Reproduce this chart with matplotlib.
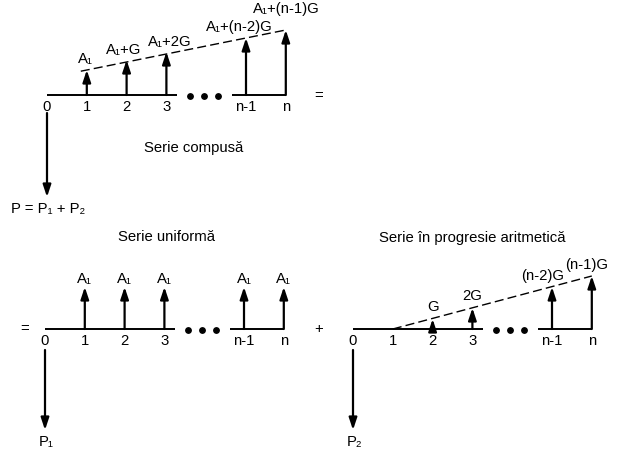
import matplotlib
matplotlib.use('Agg')
import matplotlib.pyplot as plt

plt.rcParams['font.family'] = ['Liberation Sans', 'DejaVu Sans']

# ---------------- data ----------------
# time-axis positions (a gap at 4 holds the ellipsis)
period_pos = [0, 1, 2, 3, 5, 6]
period_labels = ['0', '1', '2', '3', 'n-1', 'n']

# composite series (top)
comp_pos = [1, 2, 3, 5, 6]
comp_values = [25, 35, 43, 57, 65]
comp_labels = ['A₁', 'A₁+G', 'A₁+2G', 'A₁+(n-2)G', 'A₁+(n-1)G']

# uniform series (bottom left)
unif_pos = [1, 2, 3, 5, 6]
unif_values = [42, 42, 42, 42, 42]
unif_labels = ['A₁', 'A₁', 'A₁', 'A₁', 'A₁']

# arithmetic gradient series (bottom right)
grad_pos = [2, 3, 5, 6]
grad_values = [10, 21, 42, 53]
grad_labels = ['G', '2G', '(n-2)G', '(n-1)G']

# present values (downward arrows)
pv_values = [84, 80, 80]
pv_labels = ['P = P₁ + P₂', 'P₁', 'P₂']

titles = ['Serie compusă', 'Serie uniformă', 'Serie în progresie aritmetică']

# ---------------- layout ----------------
W, H = 624, 459
fig = plt.figure(figsize=(W / 100, H / 100), dpi=100)
ax = fig.add_axes([0, 0, 1, 1])
ax.set_xlim(0, W)
ax.set_ylim(H, 0)
ax.axis('off')

FS = 10.7
DX = 39.8
AR = dict(arrowstyle='-|>,head_length=0.6,head_width=0.2', color='black',
          lw=1.6, mutation_scale=12, shrinkA=0, shrinkB=0)


def xpos(x0, p):
    return x0 + p * DX


def timeline(x0, y0):
    ax.plot([xpos(x0, 0), xpos(x0, 3.27)], [y0, y0], color='black', lw=1.4,
            solid_capstyle='butt')
    ax.plot([xpos(x0, 4.65), xpos(x0, 6)], [y0, y0], color='black', lw=1.4,
            solid_capstyle='butt')
    ax.plot([xpos(x0, 3.6), xpos(x0, 3.95), xpos(x0, 4.3)], [y0 + 1] * 3, 'o',
            color='black', ms=3.9)
    for p, lab in zip(period_pos, period_labels):
        ax.text(xpos(x0, p), y0 + 12, lab, ha='center', va='center', fontsize=FS)


def up_arrows(x0, y0, pos, vals, labels, gaps, dxl):
    for p, v, lab, g, d in zip(pos, vals, labels, gaps, dxl):
        x = xpos(x0, p)
        ax.annotate('', xy=(x, y0 - v), xytext=(x, y0), arrowprops=AR)
        ax.text(x + d, y0 - v - g, lab, ha='center', va='bottom', fontsize=FS)


def down_arrow(x0, y0, v, start_off):
    ys = y0 + start_off
    ax.annotate('', xy=(x0, ys + v), xytext=(x0, ys), arrowprops=AR)
    return ys + v


# --- top: composite series ---
x_top, y_top = 47, 95
timeline(x_top, y_top)
up_arrows(x_top, y_top, comp_pos, comp_values, comp_labels,
          [4, 3, 3, 4, 14], [-1, -3, 3, -7, 1])
xa, xb = xpos(x_top, comp_pos[0]), xpos(x_top, comp_pos[-1])
ya, yb = y_top - comp_values[0], y_top - comp_values[-1]
slope = (yb - ya) / (xb - xa)
ax.plot([xa - 6, xb], [ya - 6 * slope, yb], color='black', lw=1.0,
        dashes=(6.5, 3))
tip = down_arrow(x_top, y_top, pv_values[0], 18)
ax.text(x_top + 1, tip + 12, pv_labels[0], ha='center', va='center', fontsize=FS)
ax.text(319, 96, '=', ha='center', va='center', fontsize=FS)
ax.text(194, 148, titles[0], ha='center', va='center', fontsize=FS)

# --- bottom left: uniform series ---
x_bl, y_bl = 45, 329
timeline(x_bl, y_bl)
up_arrows(x_bl, y_bl, unif_pos, unif_values, unif_labels,
          [1, 1, 1, 1, 1], [0, 0, 0, 0, 0])
tip = down_arrow(x_bl, y_bl, pv_values[1], 21)
ax.text(x_bl + 1, tip + 12, pv_labels[1], ha='center', va='center', fontsize=FS)
ax.text(25, 329, '=', ha='center', va='center', fontsize=FS)
ax.text(167, 237, titles[1], ha='center', va='center', fontsize=FS)

# --- bottom right: arithmetic gradient ---
x_br, y_br = 353, 329
timeline(x_br, y_br)
up_arrows(x_br, y_br, grad_pos, grad_values, grad_labels,
          [5, 5, 4, 4], [0, 0, -9, -5])
xa, xb = xpos(x_br, 1), xpos(x_br, grad_pos[-1])
ax.plot([xa, xb], [y_br, y_br - grad_values[-1]], color='black', lw=1.0,
        dashes=(6.5, 3))
tip = down_arrow(x_br, y_br, pv_values[2], 21)
ax.text(x_br + 2, tip + 12, pv_labels[2], ha='center', va='center', fontsize=FS)
ax.text(319, 329, '+', ha='center', va='center', fontsize=FS)
ax.text(472, 238, titles[2], ha='center', va='center', fontsize=FS)

fig.savefig('out.png', dpi=100)
